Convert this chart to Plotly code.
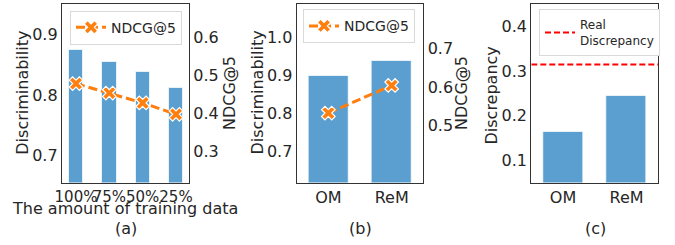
import plotly.graph_objects as go

# Panel (a)
cats_a = ["100%", "75%", "50%", "25%"]
disc_a = [0.874, 0.855, 0.838, 0.812]
ndcg_a = [0.479, 0.454, 0.428, 0.398]

# Panel (b)
cats_b = ["OM", "ReM"]
disc_b = [0.900, 0.940]
ndcg_b = [0.533, 0.604]

# Panel (c)
cats_c = ["OM", "ReM"]
discrep_c = [0.1635, 0.245]
real_discrepancy = 0.315

W, H = 675, 245
BAR = "#5a9fd0"
ORANGE = "#ff7f0e"
TXT = "#262626"
LINE = "#333333"
FONT = "DejaVu Sans"
TOP, BOT = 4, 182.5


def px(x):
    return x / W


def py(y):
    return 1 - y / H


fig = go.Figure()

bar_line = dict(color="rgba(255,255,255,0.7)", width=1)
mk = dict(symbol="x", size=12, color=ORANGE, line=dict(color="white", width=1.2))
# (a)
fig.add_trace(go.Bar(x=cats_a, y=disc_a, width=0.43, marker=dict(color=BAR, line=bar_line),
                     xaxis="x", yaxis="y", showlegend=False))
fig.add_trace(go.Scatter(x=cats_a, y=ndcg_a, mode="lines+markers", name="NDCG@5",
                         line=dict(color=ORANGE, width=3, dash="9px,4px"), marker=mk,
                         xaxis="x", yaxis="y2", legend="legend"))
# (b)
fig.add_trace(go.Bar(x=cats_b, y=disc_b, width=0.63, marker=dict(color=BAR, line=bar_line),
                     xaxis="x2", yaxis="y3", showlegend=False))
fig.add_trace(go.Scatter(x=cats_b, y=ndcg_b, mode="lines+markers", name="NDCG@5",
                         line=dict(color=ORANGE, width=3, dash="9px,4px"), marker=mk,
                         xaxis="x2", yaxis="y4", legend="legend2"))
# (c)
fig.add_trace(go.Bar(x=cats_c, y=discrep_c, width=0.63, marker=dict(color=BAR, line=bar_line),
                     xaxis="x3", yaxis="y5", showlegend=False))
fig.add_trace(go.Scatter(x=[-0.5, 1.5], y=[real_discrepancy, real_discrepancy], mode="lines",
                         name="Real<br>Discrepancy", line=dict(color="red", width=2, dash="6px,3px"),
                         xaxis="x4", yaxis="y5", legend="legend3"))

axis_common = dict(showline=True, linecolor=LINE, linewidth=1.3, ticks="", ticklen=0,
                   showgrid=False, zeroline=False, automargin=False,
                   tickfont=dict(size=16, color=TXT, family=FONT))
ydom = [py(BOT), py(TOP)]

fig.update_layout(
    width=W, height=H, margin=dict(l=0, r=0, t=0, b=0),
    paper_bgcolor="white", plot_bgcolor="white",
    font=dict(family=FONT, color=TXT),
    bargap=0,
    xaxis=dict(domain=[px(62), px(189)], range=[-0.42, 3.39], mirror=True, anchor="y", tickangle=0,
               **{**axis_common, "tickfont": dict(size=15, color=TXT, family=FONT)}),
    yaxis=dict(domain=ydom, range=[0.656, 0.95], tickvals=[0.7, 0.8, 0.9], ticktext=["0.7", "0.8", "0.9"],
               anchor="x", **axis_common),
    yaxis2=dict(range=[0.218, 0.689], tickvals=[0.3, 0.4, 0.5, 0.6], ticktext=["0.3", "0.4", "0.5", "0.6"],
                overlaying="y", side="right", anchor="x", **axis_common),
    xaxis2=dict(domain=[px(296.7), px(423.3)], range=[-0.5, 1.5], mirror=True, anchor="y3", tickangle=0, **axis_common),
    yaxis3=dict(domain=ydom, range=[0.619, 1.089], tickvals=[0.7, 0.8, 0.9, 1.0], ticktext=["0.7", "0.8", "0.9", "1.0"],
                anchor="x2", **axis_common),
    yaxis4=dict(range=[0.354, 0.814], tickvals=[0.5, 0.6, 0.7], ticktext=["0.5", "0.6", "0.7"],
                overlaying="y3", side="right", anchor="x2", **axis_common),
    xaxis3=dict(domain=[px(531.3), px(658.3)], range=[-0.5, 1.5], mirror=True, anchor="y5", tickangle=0, **axis_common),
    xaxis4=dict(domain=[px(531.3), px(658.3)], range=[-0.5, 1.5], overlaying="x3", visible=False),
    yaxis5=dict(domain=ydom, range=[0.05, 0.451], tickvals=[0.1, 0.2, 0.3, 0.4], ticktext=["0.1", "0.2", "0.3", "0.4"],
                anchor="x3", mirror=True, **axis_common),
    legend=dict(x=px(70), y=py(10.7), xanchor="left", yanchor="top", bgcolor="white", bordercolor="#d9d9d9", borderwidth=1,
                font=dict(size=14, color=TXT), itemwidth=30, tracegroupgap=0),
    legend2=dict(x=px(303), y=py(9.3), xanchor="left", yanchor="top", bgcolor="white", bordercolor="#d9d9d9", borderwidth=1,
                 font=dict(size=14, color=TXT), itemwidth=30),
    legend3=dict(x=px(539), y=py(9.3), xanchor="left", yanchor="top", bgcolor="white", bordercolor="#d9d9d9", borderwidth=1,
                 font=dict(size=12, color=TXT), itemwidth=30),
)


def label(text, x, y, angle=0, size=16):
    fig.add_annotation(text=text, x=px(x), y=py(y), xref="paper", yref="paper", showarrow=False,
                       textangle=angle, xanchor="center", yanchor="middle",
                       font=dict(size=size, color=TXT, family=FONT))


label("Discriminability", 21.7, 93, -90)
label("NDCG@5", 229, 93, -90)
label("Discriminability", 256.5, 93, -90)
label("NDCG@5", 461, 93, -90)
label("Discrepancy", 490.5, 96, -90)
label("The amount of training data", 125, 208.5)
label("(a)", 125.5, 228)
label("(b)", 360, 228)
label("(c)", 595, 228)

fig.write_html("out.html", config={"displayModeBar": False},
               post_script="document.body.style.margin='0px';")
